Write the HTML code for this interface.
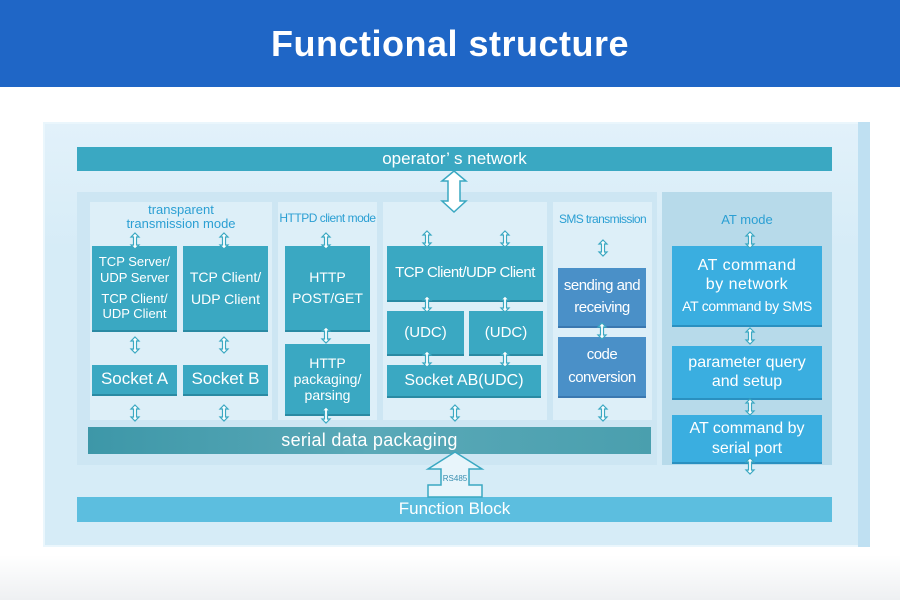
<!DOCTYPE html>
<html><head><meta charset="utf-8"><style>
body{margin:0;width:900px;height:600px;overflow:hidden;background:#fff;font-family:"Liberation Sans",sans-serif;position:relative}
div{position:absolute;box-sizing:border-box}
.b{background:#3aa8c2;color:#fff;display:flex;align-items:center;justify-content:center;text-align:center;box-shadow:0 2px 0 #2a8aa3;line-height:1.2}
.s{background:#4a90c8;box-shadow:0 2px 0 #3a78b0}
.a{background:#3aaee0;box-shadow:0 2px 0 #2a90c0}
.col{background:#ddeff8}
.lbl{color:#2b9fd3;text-align:center;font-size:13px;line-height:1.1}
</style></head><body>
<div style="left:0;top:0;width:900px;height:87px;background:#1f66c6;color:#fff;font-weight:bold;font-size:36px;display:flex;align-items:center;justify-content:center;letter-spacing:0.5px">Functional structure</div>
<div style="left:0;top:555px;width:900px;height:45px;background:linear-gradient(#fff,#eef0f2)"></div>
<div style="left:43px;top:122px;width:827px;height:425px;background:linear-gradient(#e2f1fa,#d6ecf7 30%);border:2px solid #eaf6fc"></div>
<div style="left:858px;top:122px;width:12px;height:425px;background:#bfe0f2"></div>
<div class="b" style="left:77px;top:147px;width:755px;height:24px;font-size:17px;box-shadow:none">operator’ s network</div>
<div style="left:77px;top:192px;width:580px;height:273px;background:#cde6f3"></div>
<div style="left:662px;top:192px;width:170px;height:273px;background:#b7daea"></div>
<div class="col" style="left:90px;top:202px;width:182px;height:218px"></div>
<div class="col" style="left:278px;top:202px;width:99px;height:218px"></div>
<div class="col" style="left:383px;top:202px;width:164px;height:218px"></div>
<div class="col" style="left:553px;top:202px;width:99px;height:218px"></div>
<div class="lbl" style="left:90px;top:203px;width:182px">transparent<br>transmission mode</div>
<div class="lbl" style="left:276px;top:212px;width:103px;font-size:12px;letter-spacing:-0.5px">HTTPD client mode</div>
<div class="lbl" style="left:551px;top:213px;width:103px;font-size:12px;letter-spacing:-0.6px">SMS transmission</div>
<div class="lbl" style="left:662px;top:213px;width:170px;font-size:13px">AT mode</div>
<div class="b" style="left:92px;top:246px;width:85px;height:84px;font-size:13px;flex-direction:column">TCP Server/<br>UDP Server<div style="position:static;height:5px"></div>TCP Client/<br>UDP Client</div>
<div class="b" style="left:183px;top:246px;width:85px;height:84px;font-size:14px;line-height:1.6">TCP Client/<br>UDP Client</div>
<div class="b" style="left:92px;top:365px;width:85px;height:29px;font-size:17px">Socket A</div>
<div class="b" style="left:183px;top:365px;width:85px;height:29px;font-size:17px">Socket B</div>
<div class="b" style="left:285px;top:246px;width:85px;height:84px;font-size:14px;line-height:1.5">HTTP<br>POST/GET</div>
<div class="b" style="left:285px;top:344px;width:85px;height:70px;font-size:14px;line-height:1.15">HTTP<br>packaging/<br>parsing</div>
<div class="b" style="left:387px;top:246px;width:156px;height:54px;font-size:15px;letter-spacing:-0.5px">TCP Client/UDP Client</div>
<div class="b" style="left:387px;top:311px;width:77px;height:43px;font-size:15px">(UDC)</div>
<div class="b" style="left:469px;top:311px;width:74px;height:43px;font-size:15px">(UDC)</div>
<div class="b" style="left:387px;top:365px;width:154px;height:31px;font-size:16px">Socket AB(UDC)</div>
<div class="b s" style="left:558px;top:268px;width:88px;height:58px;font-size:15px;line-height:1.5;letter-spacing:-0.5px">sending and<br>receiving</div>
<div class="b s" style="left:558px;top:337px;width:88px;height:59px;font-size:15px;line-height:1.5;letter-spacing:-0.5px">code<br>conversion</div>
<div class="b a" style="left:672px;top:246px;width:150px;height:79px;font-size:16px;flex-direction:column;letter-spacing:0.5px">AT command<br>by network<div style="position:static;font-size:14px;letter-spacing:-0.3px;margin-top:4px">AT command by SMS</div></div>
<div class="b a" style="left:672px;top:346px;width:150px;height:52px;font-size:16px">parameter query<br>and setup</div>
<div class="b a" style="left:672px;top:415px;width:150px;height:47px;font-size:16px">AT command by<br>serial port</div>
<div class="b" style="left:88px;top:427px;width:563px;height:27px;font-size:18px;background:linear-gradient(90deg,#3d97a8,#5aa9b8,#4a9fae);box-shadow:none;letter-spacing:0.3px">serial data packaging</div>
<div class="b" style="left:77px;top:497px;width:755px;height:25px;font-size:17px;background:#5cbedf;box-shadow:none">Function Block</div>
<svg width="900" height="600" style="position:absolute;left:0;top:0">
<defs><path id="ar" d="M0,-8 L4,-4 L1.5,-4 L1.5,4 L4,4 L0,8 L-4,4 L-1.5,4 L-1.5,-4 L-4,-4 Z" fill="#fff" stroke="#3aa8c2" stroke-width="1.2"/></defs>
<g>
<use href="#ar" x="135" y="241"/><use href="#ar" x="224" y="241"/>
<use href="#ar" x="135" y="345"/><use href="#ar" x="224" y="345"/>
<use href="#ar" x="135" y="413"/><use href="#ar" x="224" y="413"/>
<use href="#ar" x="326" y="241"/><use href="#ar" x="326" y="335"/><use href="#ar" x="326" y="415"/>
<use href="#ar" x="427" y="239"/><use href="#ar" x="505" y="239"/>
<use href="#ar" x="427" y="304"/><use href="#ar" x="505" y="304"/>
<use href="#ar" x="427" y="359"/><use href="#ar" x="505" y="359"/>
<use href="#ar" x="455" y="413"/>
<use href="#ar" x="603" y="248"/><use href="#ar" x="602" y="331"/><use href="#ar" x="603" y="413"/>
<use href="#ar" x="750" y="240"/><use href="#ar" x="750" y="336"/><use href="#ar" x="750" y="407"/><use href="#ar" x="750" y="466"/>
</g>
<path d="M454,171 L466,181 L460,181 L460,201 L466,201 L454,212 L442,201 L448,201 L448,181 L442,181 Z" fill="#fff" stroke="#3aa8c2" stroke-width="1.5"/>
<path d="M455,452 L482,469 L469,469 L469,485 L482,485 L482,497 L428,497 L428,485 L441,485 L441,469 L428,469 Z" fill="#e8f5fb" stroke="#3aa8c2" stroke-width="1.5"/>
<text x="455" y="481" font-size="8" fill="#3a8fb0" text-anchor="middle" font-family="Liberation Sans">RS485</text>
</svg>
</body></html>
